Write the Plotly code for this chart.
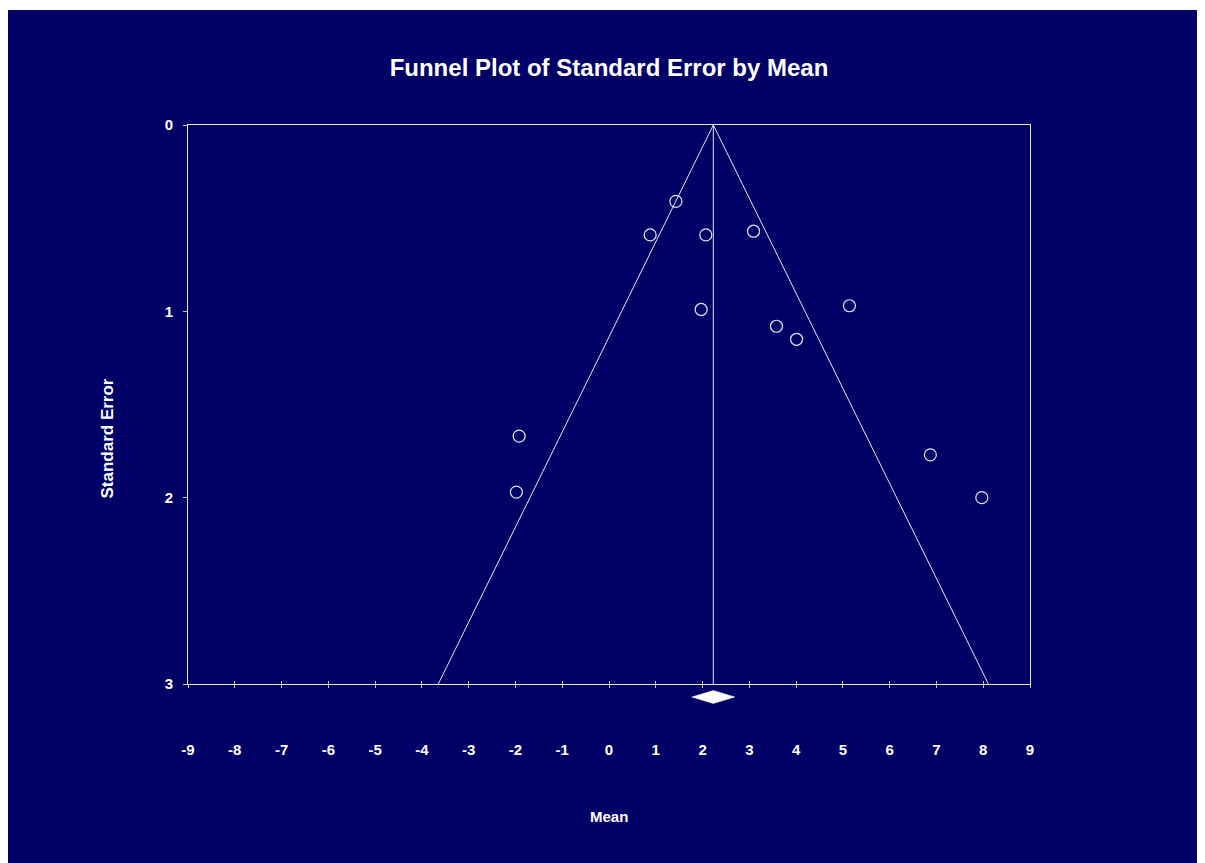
import plotly.graph_objects as go

# Study data
study_mean = [1.43, 0.88, 2.07, 3.09, 1.97, 3.58, 4.01, 5.14, -1.92, -1.98, 6.87, 7.97]
study_se = [0.41, 0.59, 0.59, 0.57, 0.99, 1.08, 1.15, 0.97, 1.67, 1.97, 1.77, 2.00]

pooled_mean = 2.23
pooled_ci_low = 1.77
pooled_ci_high = 2.69
z_value = 1.96
se_max = 3

x_tick_vals = list(range(-9, 10))
x_tick_text = [str(v) for v in x_tick_vals]
y_tick_vals = [0, 1, 2, 3]
y_tick_text = [str(v) for v in y_tick_vals]

NAVY = "#000066"
LINE = "#e6e6f0"
TICK = "#c8c8d8"
FONT = "Arial, Liberation Sans, sans-serif"

fig = go.Figure()

# Funnel (95% limits)
fig.add_trace(go.Scatter(
    x=[pooled_mean - z_value * se_max, pooled_mean, pooled_mean + z_value * se_max],
    y=[se_max, 0, se_max],
    mode="lines", line=dict(color=LINE, width=1), hoverinfo="skip", showlegend=False))

# Vertical line at pooled mean (on overlay axis used for inside ticks)
fig.add_trace(go.Scatter(
    x=[pooled_mean, pooled_mean], y=[0, se_max], xaxis="x2",
    mode="lines", line=dict(color=LINE, width=1), hoverinfo="skip", showlegend=False))

# Studies
fig.add_trace(go.Scatter(
    x=study_mean, y=study_se, mode="markers",
    marker=dict(symbol="circle-open", size=12, color=LINE, line=dict(width=1.2, color=LINE)),
    showlegend=False))

# page body has an 8px margin; figure coordinates below are relative to the figure
W, H = 1197, 855
px_l, px_r, px_t, px_b = 180, 1022, 117, 676
pw, ph = px_r - px_l, px_b - px_t

def py(p):
    return (px_b - p) / ph

def pxx(p):
    return (p - px_l) / pw

shapes = [
    # thin white strip at top
    dict(type="rect", xref="paper", yref="paper", x0=pxx(-2), x1=pxx(W + 2), y0=py(2), y1=py(-2),
         fillcolor="white", line=dict(width=0), layer="above"),
    # pooled estimate diamond
    dict(type="path", xref="x", yref="paper",
         path=f"M {pooled_ci_low},{py(689)} L {pooled_mean},{py(682.5)} L {pooled_ci_high},{py(689)} L {pooled_mean},{py(695.5)} Z",
         fillcolor="white", line=dict(color="white", width=0.5)),
]

axis_font = dict(family=FONT, size=15, color="white", weight="bold")

fig.update_layout(
    width=W, height=H,
    paper_bgcolor=NAVY, plot_bgcolor=NAVY,
    margin=dict(l=px_l, r=W - px_r, t=px_t, b=H - px_b, pad=0),
    title=dict(text="Funnel Plot of Standard Error by Mean", x=0.5, xref="paper", xanchor="center",
               y=(H - 60) / H, yref="container", yanchor="middle",
               font=dict(family=FONT, size=24, color="white", weight="bold")),
    xaxis=dict(range=[-9, 9], tickvals=x_tick_vals, ticktext=x_tick_text, ticks="outside", ticklen=3,
               tickcolor=TICK, tickwidth=1,
               showline=True, linecolor=LINE, linewidth=1, mirror=True, showgrid=False, zeroline=False,
               tickfont=axis_font, ticklabelstandoff=49),
    xaxis2=dict(range=[-9, 9], tickvals=x_tick_vals, ticks="inside", ticklen=3, tickcolor=TICK, tickwidth=1,
                overlaying="x", anchor="y", side="bottom", showticklabels=False, showline=False,
                showgrid=False, zeroline=False),
    yaxis=dict(range=[se_max, 0], autorange=False, tickvals=y_tick_vals, ticktext=y_tick_text,
               ticks="outside", ticklen=4,
               tickcolor=TICK, showline=True, linecolor=LINE, linewidth=1, mirror=True,
               showgrid=False, zeroline=False, tickfont=axis_font, ticklabelstandoff=7),
    shapes=shapes,
    annotations=[
        dict(text="Mean", xref="paper", yref="paper", x=0.5, y=py(808.7), showarrow=False,
             xanchor="center", yanchor="middle", font=axis_font),
        dict(text="Standard Error", xref="paper", yref="paper", x=pxx(98.5), y=py(431), showarrow=False,
             textangle=-90, xanchor="center", yanchor="middle",
             font=dict(family=FONT, size=17, color="white", weight="bold")),
    ],
    showlegend=False,
)

fig.write_html("out.html")
